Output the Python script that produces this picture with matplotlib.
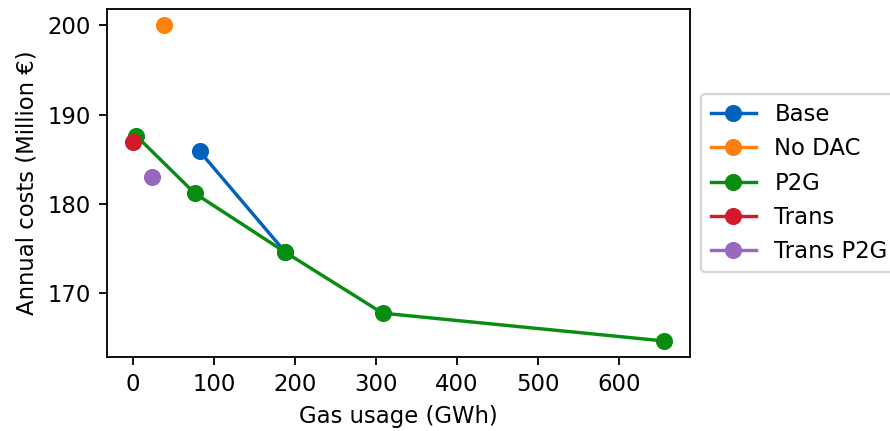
import matplotlib
matplotlib.use("Agg")
import matplotlib.pyplot as plt

base_x = [82, 188]
base_y = [185.9, 174.6]
nodac_x = [38]
nodac_y = [200.0]
p2g_x = [4, 76, 188, 308, 655]
p2g_y = [187.6, 181.2, 174.6, 167.8, 164.7]
trans_x = [0]
trans_y = [186.9]
transp2g_x = [23]
transp2g_y = [183.0]

DPI = 164
fig = plt.figure(figsize=(890 / DPI, 431 / DPI), dpi=DPI)
ax = fig.add_axes([0.1199, 0.1724, 0.6554, 0.806])

ax.plot(base_x, base_y, '-o', color='#0062bd', label='Base', ms=6.5)
ax.plot(nodac_x, nodac_y, '-o', color='#ff800e', label='No DAC', ms=6.5)
ax.plot(p2g_x, p2g_y, '-o', color='#088c12', label='P2G', ms=6.5)
ax.plot(trans_x, trans_y, '-o', color='#d21a2c', label='Trans', ms=6.5)
ax.plot(transp2g_x, transp2g_y, '-o', color='#9768bd', label='Trans P2G', ms=6.5)

ax.set_xlabel('Gas usage (GWh)')
ax.set_ylabel('Annual costs (Million €)')
ax.set_xticks([0, 100, 200, 300, 400, 500, 600])
ax.set_yticks([170, 180, 190, 200])
ax.legend(loc='center left', bbox_to_anchor=(1.0, 0.5))

fig.savefig('out.png', dpi=DPI)
